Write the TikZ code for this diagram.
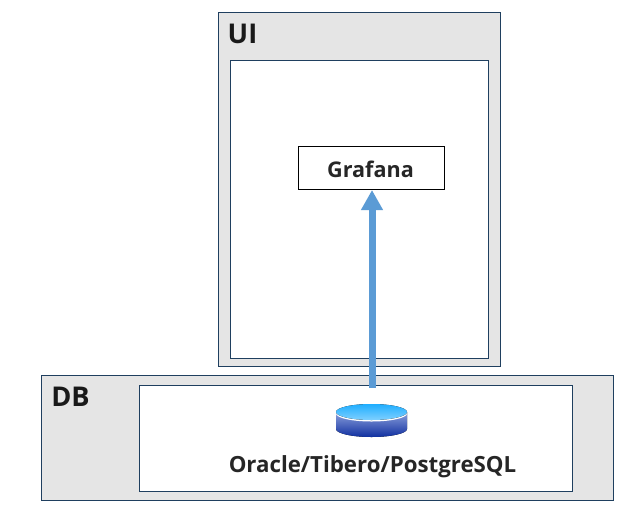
\documentclass[tikz,border=0pt]{standalone}
\usepackage{fontspec}
\setmainfont{Open Sans}
\usetikzlibrary{arrows.meta}
\definecolor{panelgray}{HTML}{E5E5E5}
\definecolor{panelline}{HTML}{1F3F5F}
\definecolor{flowblue}{HTML}{5B9BD5}
\definecolor{diskhigh}{HTML}{1FAEFF}
\definecolor{disklow}{HTML}{7FD0FF}
\definecolor{bodyhigh}{HTML}{8CA0DC}
\definecolor{bodylow}{HTML}{1030A0}
\tikzset{
  panel/.style={draw=panelline, fill=panelgray, line width=0.75pt, inner sep=0},
  innerbox/.style={draw=panelline, fill=white, line width=0.75pt, inner sep=0},
  label/.style={font=\fontsize{20.4}{22}\selectfont\bfseries, text=black!90, inner sep=0},
  appname/.style={font=\fontsize{16.2}{18}\selectfont\bfseries, text=black!85, inner sep=0},
}
\begin{document}
\begin{tikzpicture}[x=0.75pt, y=-0.75pt, >=stealth]
  \useasboundingbox (0,0) rectangle (641,521);

  \node[panel, minimum width=211.5pt, minimum height=265.5pt] (ui) at (359.5,189.5) {};
  \node[innerbox, minimum width=193.5pt, minimum height=223.5pt] (uiinner) at (359.5,209.5) {};
  \node[panel, minimum width=429pt, minimum height=93.75pt] (db) at (327.5,438) {};
  \node[innerbox, minimum width=324.75pt, minimum height=79.5pt] (dbinner) at (356,438) {};
  \node[draw=black, fill=white, line width=0.75pt, minimum width=109.5pt, minimum height=32.25pt, inner sep=0] (grafana) at (371.5,168) {};

  \node[label] (uilabel) at (242.5,34) {UI};
  \node[label] (dblabel) at (70.5,397) {DB};
  \node[appname] at (370.5,169) {Grafana};
  \node[appname, font=\fontsize{16.7}{18}\selectfont\bfseries] (dbname) at (372.5,467) {Oracle/Tibero/PostgreSQL};

  % cylinder
  \fill[top color=bodyhigh, bottom color=bodylow]
    (336,412) -- (407,412) -- (407,429) arc[start angle=0, end angle=180, x radius=35.5, y radius=8] -- cycle;
  \fill[white] (371.5,413.5) ellipse[x radius=35.5, y radius=8];
  \fill[top color=diskhigh, bottom color=disklow] (371.5,412) ellipse[x radius=35.5, y radius=8];
  \coordinate (cylinder) at (372,388);

  \draw[flowblue, line width=5.25pt, -{Triangle[length=15pt, width=15.5pt]}] (cylinder) -- (grafana.south -| cylinder);
\end{tikzpicture}
\end{document}
